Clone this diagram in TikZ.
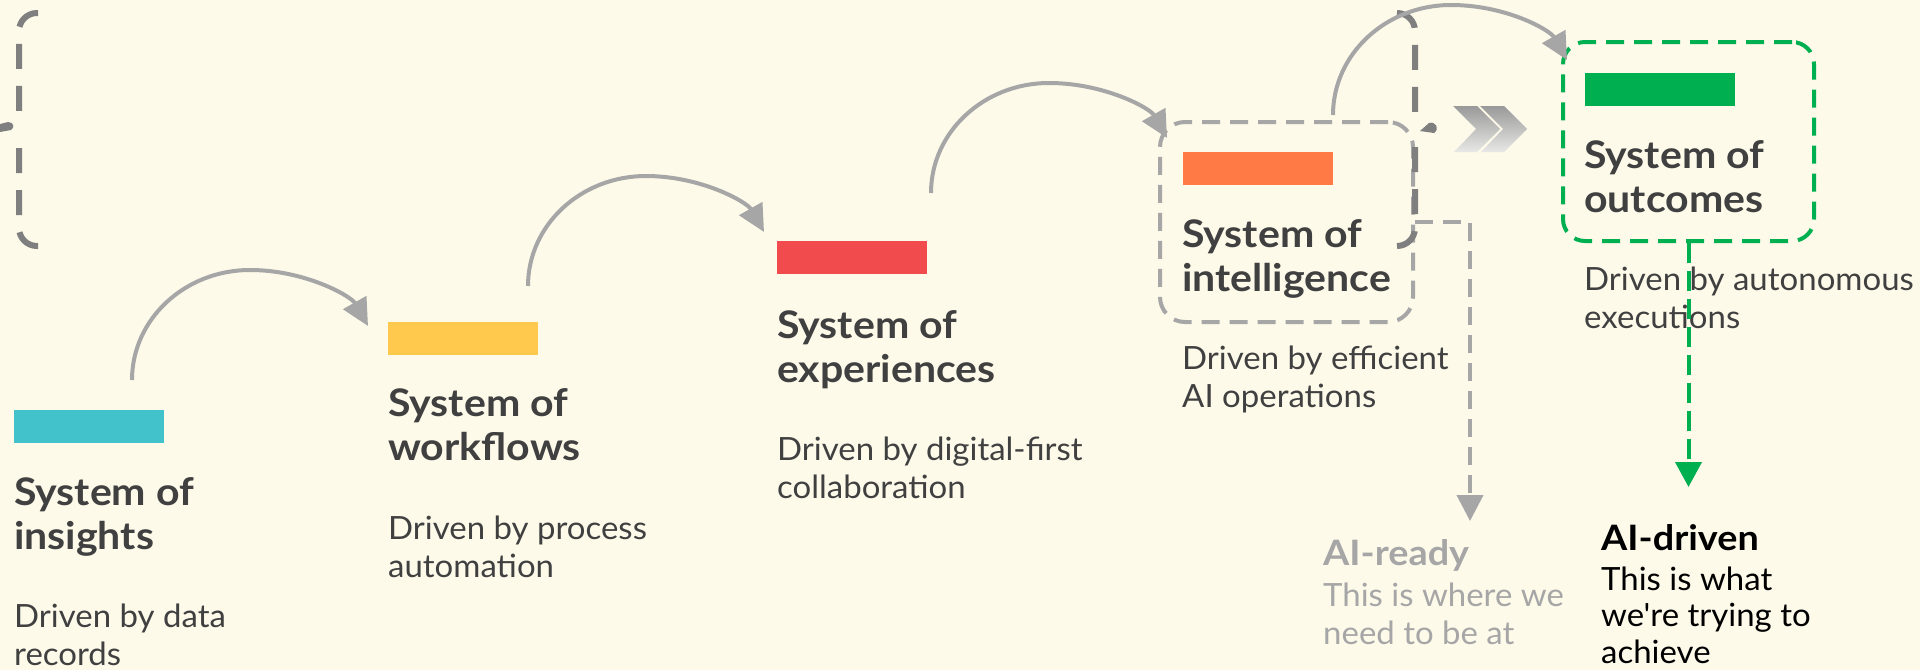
\documentclass[tikz,border=0pt]{standalone}
\usepackage{fontspec}
\setmainfont{Lato}[FakeStretch=1.03]
\newfontfamily\hfont{Lato}[FakeStretch=1.08]
\newfontfamily\plainfont{Lato}[FakeStretch=1.03]
\usetikzlibrary{arrows.meta,calc}
\definecolor{bg}{HTML}{FDFAEA}
\definecolor{txt}{HTML}{404040}
\definecolor{lgray}{HTML}{A6A6A6}
\definecolor{dgray}{HTML}{7F7F7F}
\definecolor{cgray}{HTML}{999999}
\definecolor{clight}{HTML}{E8E8E6}
\definecolor{gcol}{HTML}{00B050}
\definecolor{c1}{HTML}{42C3CB}
\definecolor{c2}{HTML}{FFC94D}
\definecolor{c3}{HTML}{F24B4D}
\definecolor{c4}{HTML}{FF7A45}
\definecolor{c5}{HTML}{00AF50}
\tikzset{
  bar/.style={fill=#1, draw=none, inner sep=0, minimum width=150, minimum height=33, anchor=north west},
  head/.style={font=\hfont\fontsize{38}{44}\selectfont\bfseries, text=txt, align=left, inner sep=0, anchor=base west},
  desc/.style={font=\fontsize{32}{38}\selectfont, text=txt, align=left, inner sep=0, anchor=base west},
  flow/.style={draw=lgray, line width=4pt, -{Triangle[length=27pt,width=26pt]}},
  bracket/.style={draw=dgray, line width=6pt, dash pattern=on 25pt off 17pt, rounded corners=18pt},
  lbox/.style={draw=lgray, line width=4pt, dash pattern=on 18pt off 10pt, rounded corners=25pt, inner sep=0},
  gbox/.style={draw=gcol, line width=4pt, dash pattern=on 18pt off 10pt, rounded corners=22pt, inner sep=0},
}
\begin{document}
\begin{tikzpicture}[x=1pt,y=-1pt]
\fill[bg] (0,0) rectangle (1920,670);
\useasboundingbox (0,0) rectangle (1920,670);

% boxes
\node[lbox, minimum width=253, minimum height=200] (ibox) at (1286.5,222) {};
\node[gbox, minimum width=251, minimum height=199] (obox) at (1688.5,141.5) {};

% braces
\draw[bracket] (38,13) -- (19,13) -- (19,112);
\draw[bracket] (38,246) -- (19,246) -- (19,143);
\fill[dgray] (0,124) -- (8,122) .. controls (14,122) and (15,128) .. (11,130) -- (0,132) -- cycle;
\draw[bracket] (1397,13) -- (1415,13) -- (1415,112);
\draw[bracket] (1397,246) -- (1415,246) -- (1415,143);
\fill[dgray] (1420,131) -- (1429,123) .. controls (1436,121) and (1440,129) .. (1434,133) -- cycle;

% chevrons
\shade[top color=cgray, middle color=cgray, bottom color=clight]
  (1453,106) -- (1477,106) -- (1500,129) -- (1477,152) -- (1454,152) -- (1476,129) -- cycle;
\shade[top color=cgray, middle color=cgray, bottom color=clight]
  (1480,106) -- (1504,106) -- (1527,129) -- (1504,152) -- (1481,152) -- (1503,129) -- cycle;

% bars
\node[bar=c1] (b1) at (14,410) {};
\node[bar=c2] (b2) at (388,322) {};
\node[bar=c3] (b3) at (777,241) {};
\node[bar=c4] (b4) at (1183,152) {};
\node[bar=c5] (b5) at (1585,73) {};

% headings (anchor = baseline of last line)
\node[head] (h1) at (14,549) {System of\\insights};
\node[head] (h2) at (388,460) {System of\\workflows};
\node[head] (h3) at (777,382) {System of\\experiences};
\node[head] (h4) at (1182,291) {System of\\intelligence};
\node[head] (h5) at (1584,212) {System of\\outcomes};

% descriptions
\node[desc] (d1) at (14,665) {Driven by data\\records};
\node[desc] (d2) at (388,577) {Driven by process\\automation};
\node[desc] (d3) at (777,498) {Driven by digital-first\\collaboration};
\node[desc] (d4) at (1182,407) {Driven by efficient\\AI operations};
\node[desc] (d5) at (1584,328) {Driven by autonomous\\executions};

% AI labels
\node[head, font=\hfont\fontsize{35}{40}\selectfont\bfseries, text=lgray] (r1) at (1323,565) {AI-ready};
\node[desc, text=lgray] (r2) at (1323,644) {This is where we\\need to be at};
\node[head, font=\hfont\fontsize{35}{40}\selectfont\bfseries, text=black] (g1) at (1601,550) {AI-driven};
\node[desc, font=\plainfont\fontsize{32}{36.5}\selectfont, text=black] (g2) at (1601,663) {This is what\\we're trying to\\achieve};

% stage arrows
\coordinate (a1s) at (132,380); \coordinate (a1e) at (368,326);
\coordinate (a2s) at (528,286); \coordinate (a2e) at (764,232);
\coordinate (a3s) at (931,193); \coordinate (a3e) at (1167,138);
\coordinate (a4s) at (1333,115); \coordinate (a4e) at (1567,60);
\foreach \s/\e in {a1s/a1e,a2s/a2e,a3s/a3e,a4s/a4e}{
  \draw[flow] (\s) .. controls +(0,-61) and +(-65,0) .. ($(\s)+(118,-110)$)
     .. controls +(55,0) and +(-17,-30) .. (\e);
}

% outcome connectors
\coordinate (readyTip) at (1470,521);
\coordinate (drivenTip) at (1688.5,487);
\draw[draw=lgray, line width=4pt, dash pattern=on 18pt off 10pt, -{Triangle[length=26pt,width=26pt]}]
  (ibox.east) -| (readyTip);
\draw[draw=gcol, line width=4pt, dash pattern=on 20pt off 8pt, -{Triangle[length=25pt,width=26pt]}]
  (obox.south) -- (obox.south |- drivenTip);
\end{tikzpicture}
\end{document}
